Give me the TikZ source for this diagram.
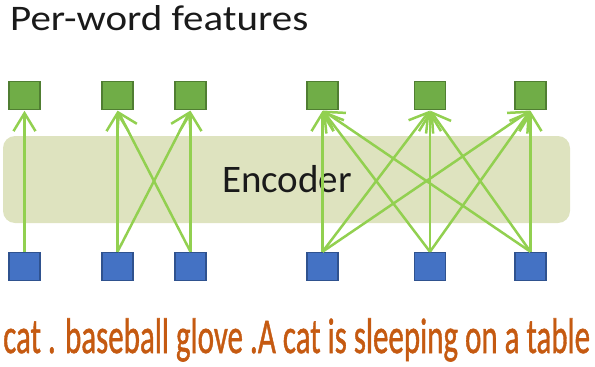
\documentclass[tikz,border=0pt]{standalone}
\usepackage{fontspec}
\setmainfont{Carlito}
\newfontfamily\wordsfont[FakeBold=1.2]{Carlito}
\usetikzlibrary{arrows.meta}
\definecolor{featgreen}{HTML}{70AD47}
\definecolor{featgreenb}{HTML}{507E32}
\definecolor{inblue}{HTML}{4472C4}
\definecolor{inblueb}{HTML}{2F528F}
\definecolor{arrgreen}{HTML}{92D050}
\definecolor{encfill}{HTML}{DEE3BF}
\definecolor{wordorange}{HTML}{C55A11}
\definecolor{txtdark}{HTML}{1A1A1A}
\tikzset{
  feat/.style={draw=featgreenb, fill=featgreen, line width=1.5pt, minimum width=31pt, minimum height=28pt, inner sep=0pt},
  inp/.style={draw=inblueb, fill=inblue, line width=1.5pt, minimum width=31pt, minimum height=28pt, inner sep=0pt},
  conn/.style={draw=arrgreen, line width=2.5pt, -{Straight Barb[length=18pt, width=22pt, line width=2.5pt]}, shorten >=0.5pt},
}
\begin{document}
\begin{tikzpicture}[x=1pt, y=-1pt]
\useasboundingbox (0,0) rectangle (595,367);
% encoder band
\node[fill=encfill, rounded corners=12pt, minimum width=567pt, minimum height=87pt, inner sep=0pt] (enc) at (286.5,179.5) {};
\node[anchor=base, inner sep=0pt, text=txtdark, font=\fontsize{39pt}{44pt}\selectfont] (enclabel) at (287,192) {Encoder};
% title
\node[anchor=base west, inner sep=0pt, text=txtdark] (title) at (10,30) {\resizebox{298pt}{\height}{\fontsize{36pt}{40pt}\selectfont Per-word features}};
% squares
\foreach \i/\x in {1/24.5, 2/117.5, 3/190.5, 4/322.5, 5/430, 6/530.5} {
  \node[feat] (g\i) at (\x,95.5) {};
  \node[inp] (b\i) at (\x,266.5) {};
}
% connectors
\draw[conn] (b1.north) -- (g1.south);
\foreach \s in {2,3} \foreach \t in {2,3} { \draw[conn] (b\s.north) -- (g\t.south); }
\foreach \s in {4,5,6} \foreach \t in {4,5,6} { \draw[conn] (b\s.north) -- (g\t.south); }
% words
\node[anchor=base west, inner sep=0pt, text=wordorange] (words) at (3,353) {\resizebox{587pt}{\height}{\wordsfont\fontsize{50pt}{56pt}\selectfont cat . baseball glove .A cat is sleeping on a table}};
\end{tikzpicture}
\end{document}
